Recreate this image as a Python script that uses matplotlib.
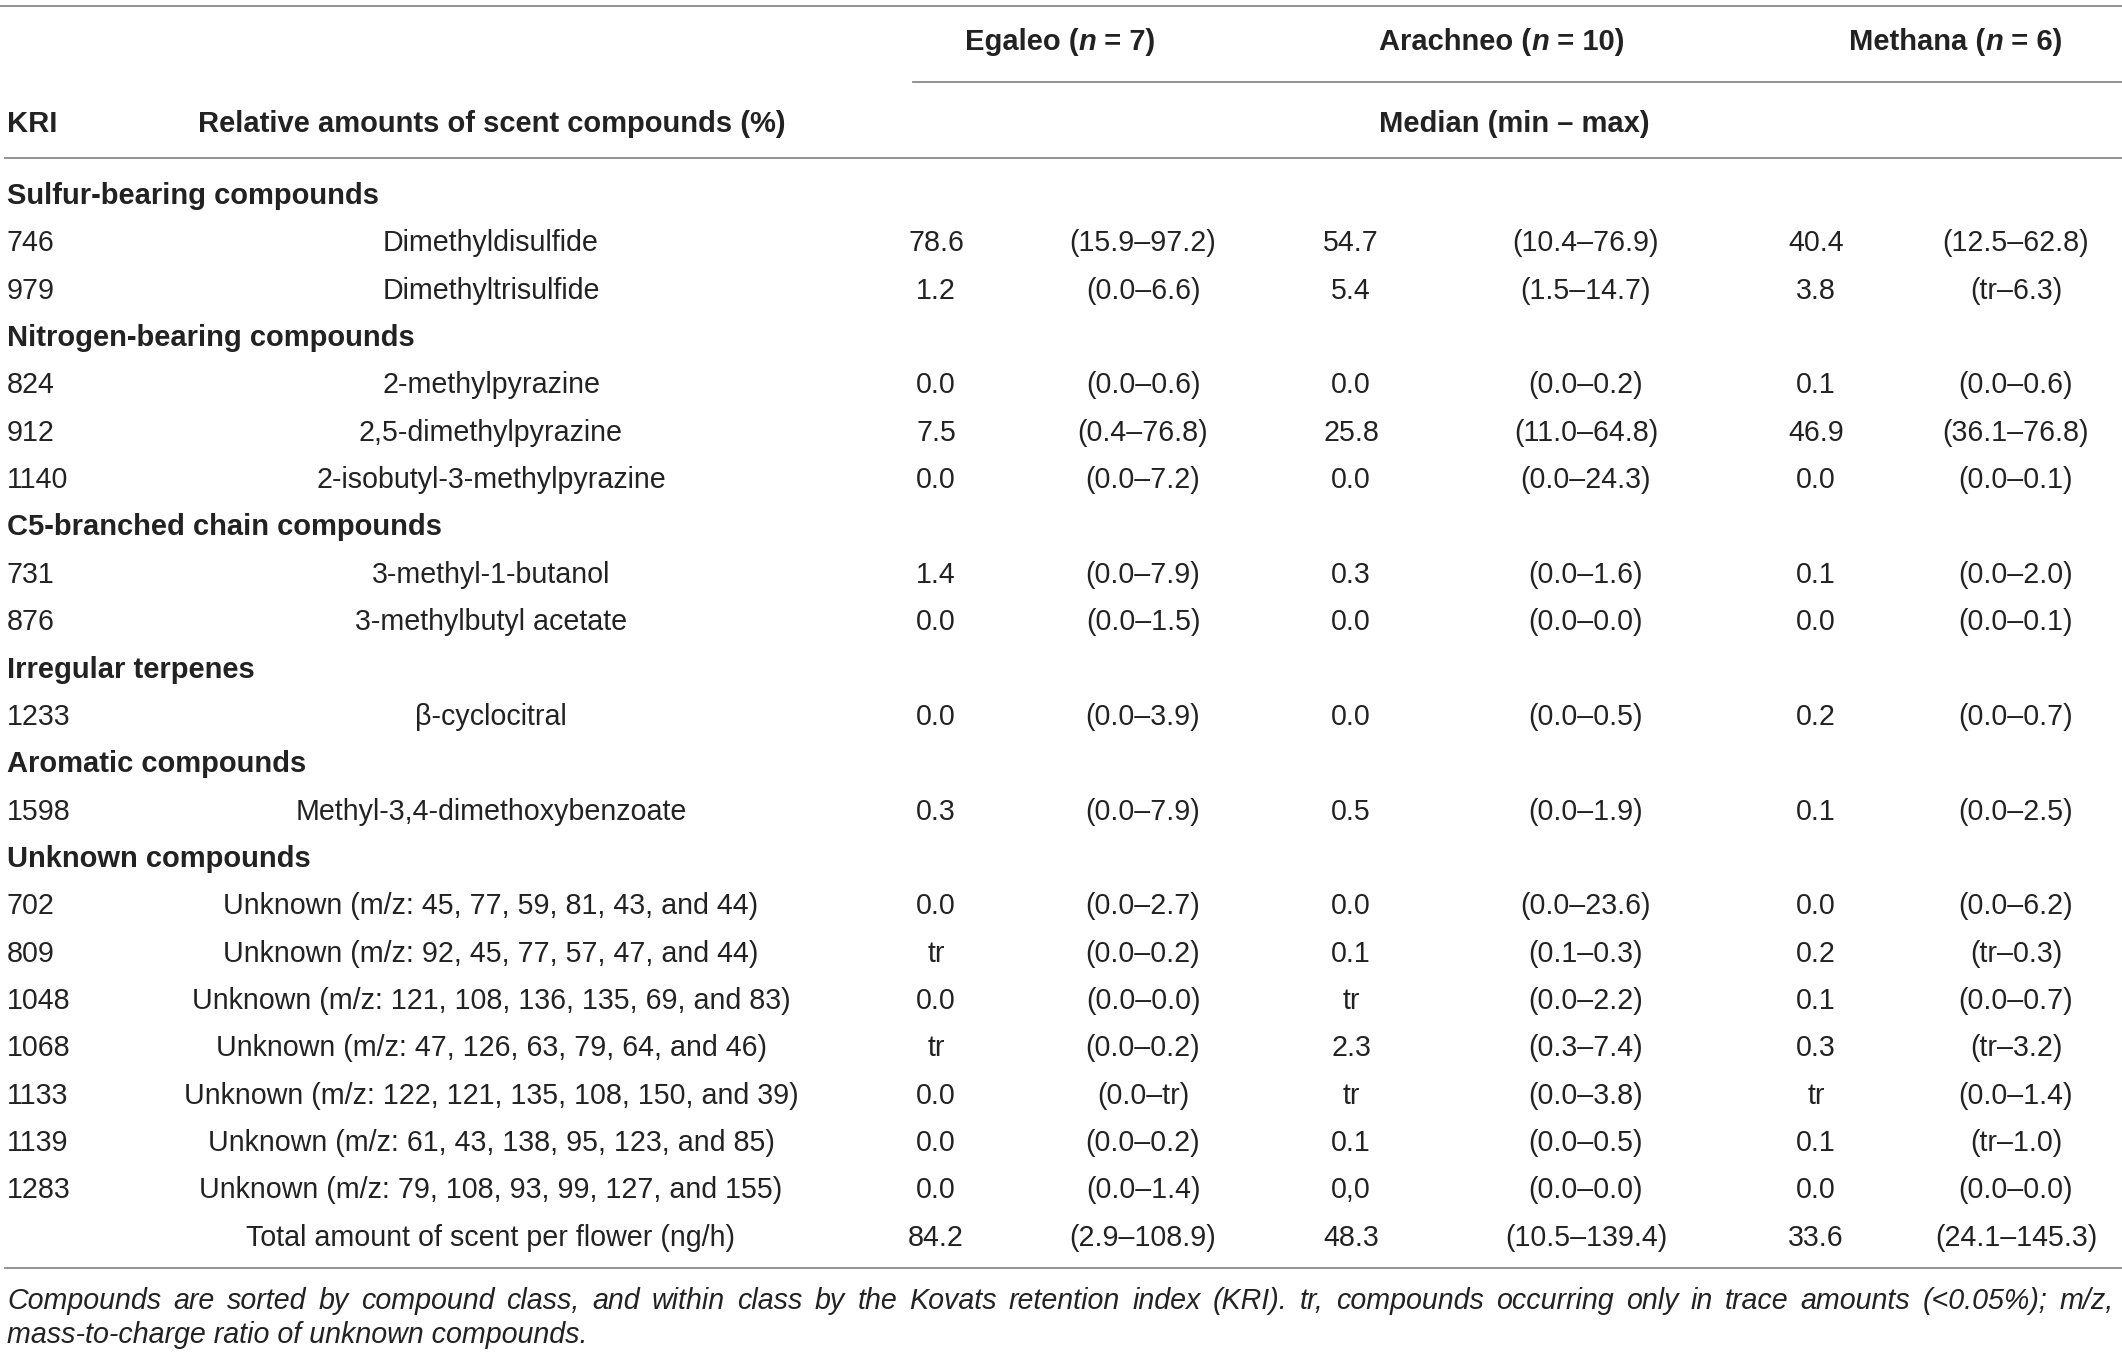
import matplotlib
matplotlib.use("Agg")
import matplotlib.pyplot as plt

plt.rcParams['font.family'] = ['Liberation Sans', 'DejaVu Sans']

# ---- table data ----
sites = ["Egaleo", "Arachneo", "Methana"]
site_n = ["7", "10", "6"]

group_names = ["Sulfur-bearing compounds", "Nitrogen-bearing compounds",
               "C5-branched chain compounds", "Irregular terpenes",
               "Aromatic compounds", "Unknown compounds"]
group_sizes = [2, 3, 2, 1, 1, 7]

kri = ["746", "979", "824", "912", "1140", "731", "876", "1233", "1598",
       "702", "809", "1048", "1068", "1133", "1139", "1283"]
compounds = ["Dimethyldisulfide", "Dimethyltrisulfide",
             "2-methylpyrazine", "2,5-dimethylpyrazine", "2-isobutyl-3-methylpyrazine",
             "3-methyl-1-butanol", "3-methylbutyl acetate",
             "\u03b2-cyclocitral",
             "Methyl-3,4-dimethoxybenzoate",
             "Unknown (m/z: 45, 77, 59, 81, 43, and 44)",
             "Unknown (m/z: 92, 45, 77, 57, 47, and 44)",
             "Unknown (m/z: 121, 108, 136, 135, 69, and 83)",
             "Unknown (m/z: 47, 126, 63, 79, 64, and 46)",
             "Unknown (m/z: 122, 121, 135, 108, 150, and 39)",
             "Unknown (m/z: 61, 43, 138, 95, 123, and 85)",
             "Unknown (m/z: 79, 108, 93, 99, 127, and 155)"]

egaleo_med = ["78.6", "1.2", "0.0", "7.5", "0.0", "1.4", "0.0", "0.0", "0.3",
              "0.0", "tr", "0.0", "tr", "0.0", "0.0", "0.0"]
egaleo_rng = ["(15.9–97.2)", "(0.0–6.6)", "(0.0–0.6)", "(0.4–76.8)", "(0.0–7.2)",
              "(0.0–7.9)", "(0.0–1.5)", "(0.0–3.9)", "(0.0–7.9)",
              "(0.0–2.7)", "(0.0–0.2)", "(0.0–0.0)", "(0.0–0.2)", "(0.0–tr)",
              "(0.0–0.2)", "(0.0–1.4)"]
arachneo_med = ["54.7", "5.4", "0.0", "25.8", "0.0", "0.3", "0.0", "0.0", "0.5",
                "0.0", "0.1", "tr", "2.3", "tr", "0.1", "0,0"]
arachneo_rng = ["(10.4–76.9)", "(1.5–14.7)", "(0.0–0.2)", "(11.0–64.8)", "(0.0–24.3)",
                "(0.0–1.6)", "(0.0–0.0)", "(0.0–0.5)", "(0.0–1.9)",
                "(0.0–23.6)", "(0.1–0.3)", "(0.0–2.2)", "(0.3–7.4)", "(0.0–3.8)",
                "(0.0–0.5)", "(0.0–0.0)"]
methana_med = ["40.4", "3.8", "0.1", "46.9", "0.0", "0.1", "0.0", "0.2", "0.1",
               "0.0", "0.2", "0.1", "0.3", "tr", "0.1", "0.0"]
methana_rng = ["(12.5–62.8)", "(tr–6.3)", "(0.0–0.6)", "(36.1–76.8)", "(0.0–0.1)",
               "(0.0–2.0)", "(0.0–0.1)", "(0.0–0.7)", "(0.0–2.5)",
               "(0.0–6.2)", "(tr–0.3)", "(0.0–0.7)", "(tr–3.2)", "(0.0–1.4)",
               "(tr–1.0)", "(0.0–0.0)"]

total_label = "Total amount of scent per flower (ng/h)"
total_med = ["84.2", "48.3", "33.6"]
total_rng = ["(2.9–108.9)", "(10.5–139.4)", "(24.1–145.3)"]

footnote = ["Compounds are sorted by compound class, and within class by the Kovats "
            "retention index (KRI). tr, compounds occurring only in trace amounts "
            "(<0.05%); m/z,",
            "mass-to-charge ratio of unknown compounds."]

# ---- layout (figure pixels) ----
W, H = 2122, 1356
FS = 20.6
FSB = 21
TXT = "#222222"
LINE = "#8a8a8a"

x_kri = 7
x_name = 491
x_med = [936, 1351, 1816]
x_rng = [1143, 1586, 2016]
x_site = [1060, 1502, 1956]

fig = plt.figure(figsize=(W / 100, H / 100), dpi=100)
ax = fig.add_axes([0, 0, 1, 1])
ax.set_xlim(0, W)
ax.set_ylim(H, 0)
ax.axis("off")
renderer = fig.canvas.get_renderer()


def rich_center(xc, y, parts):
    # draw a run of differently styled pieces centred on xc
    items = []
    for s, style in parts:
        t = ax.text(0, y, s, fontsize=FSB, fontweight="bold", fontstyle=style,
                    color=TXT, ha="left", va="center")
        items.append((t, t.get_window_extent(renderer=renderer).width))
    x = xc - sum(w for _, w in items) / 2
    for t, w in items:
        t.set_x(x)
        x += w


def justified(x0, x1, y, line):
    words = line.split(" ")
    items = []
    for w in words:
        t = ax.text(0, y, w, fontsize=FS, fontstyle="italic", color=TXT,
                    ha="left", va="center")
        items.append((t, t.get_window_extent(renderer=renderer).width))
    gap = (x1 - x0 - sum(w for _, w in items)) / (len(items) - 1)
    x = x0
    for t, w in items:
        t.set_x(x)
        x += w + gap


# header
ax.plot([0, W], [6, 6], color=LINE, lw=1.3)
for xs, name, n in zip(x_site, sites, site_n):
    rich_center(xs, 42, [(name + " (", "normal"), ("n", "italic"), (" = " + n + ")", "normal")])
ax.plot([913, W], [82, 82], color=LINE, lw=1.3)
ax.text(x_kri, 124, "KRI", fontsize=FSB, fontweight="bold", color=TXT, va="center")
ax.text(198, 124, "Relative amounts of scent compounds (%)", fontsize=FSB,
        fontweight="bold", color=TXT, va="center")
ax.text(1514, 124, "Median (min – max)", fontsize=FSB, fontweight="bold",
        color=TXT, va="center", ha="center")
ax.plot([5, W], [158, 158], color=LINE, lw=1.3)

# body
y0, dy = 196, 47.35
row = 0
i = 0
for gname, gsize in zip(group_names, group_sizes):
    ax.text(x_kri, y0 + row * dy, gname, fontsize=FSB, fontweight="bold",
            color=TXT, va="center")
    row += 1
    for _ in range(gsize):
        y = y0 + row * dy
        ax.text(x_kri, y, kri[i], fontsize=FS, color=TXT, va="center")
        ax.text(x_name, y, compounds[i], fontsize=FS, color=TXT, va="center", ha="center")
        meds = [egaleo_med[i], arachneo_med[i], methana_med[i]]
        rngs = [egaleo_rng[i], arachneo_rng[i], methana_rng[i]]
        for xm, xr, m, r in zip(x_med, x_rng, meds, rngs):
            ax.text(xm, y, m, fontsize=FS, color=TXT, va="center", ha="center")
            ax.text(xr, y, r, fontsize=FS, color=TXT, va="center", ha="center")
        row += 1
        i += 1

y = y0 + row * dy
ax.text(x_name, y, total_label, fontsize=FS, color=TXT, va="center", ha="center")
for xm, xr, m, r in zip(x_med, x_rng, total_med, total_rng):
    ax.text(xm, y, m, fontsize=FS, color=TXT, va="center", ha="center")
    ax.text(xr, y, r, fontsize=FS, color=TXT, va="center", ha="center")

ax.plot([5, W], [1268, 1268], color=LINE, lw=1.3)
justified(7, 2114, 1301, footnote[0])
ax.text(7, 1335, footnote[1], fontsize=FS, fontstyle="italic", color=TXT, va="center")

fig.savefig("out.png", dpi=100)
